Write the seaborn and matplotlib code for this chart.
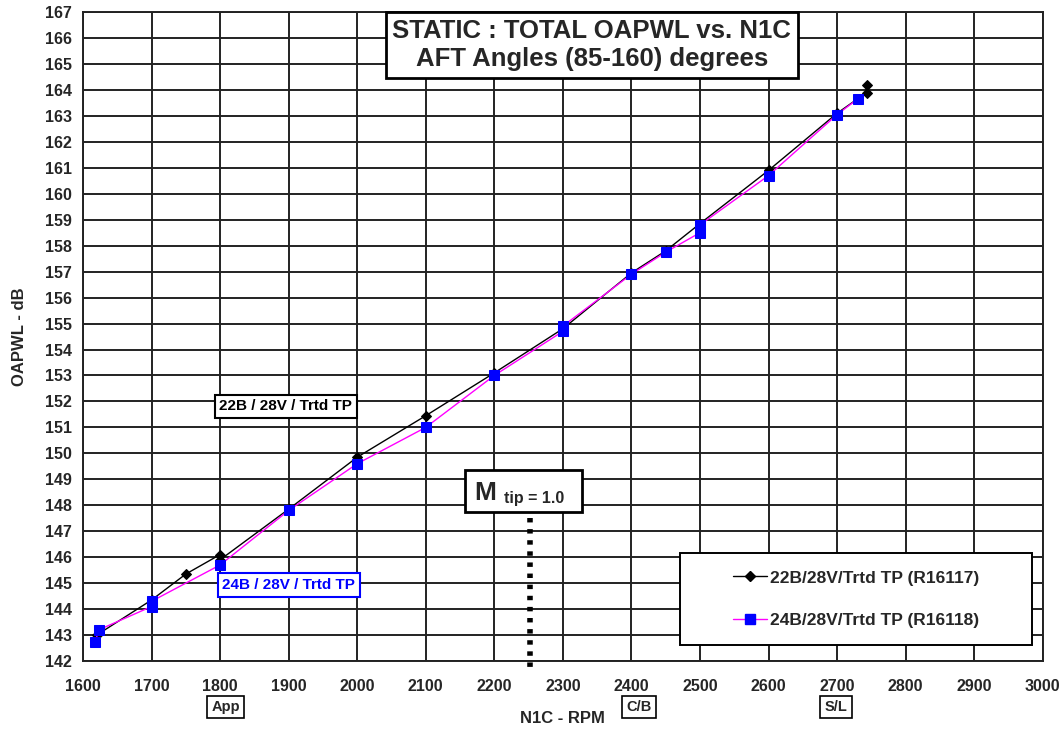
import matplotlib
matplotlib.use("Agg")
import matplotlib.pyplot as plt
import matplotlib.transforms as mtransforms
from matplotlib.lines import Line2D
from matplotlib.patches import Rectangle
import seaborn as sns
import pandas as pd

# data
rpm_22b = [1620, 1700, 1750, 1800, 1800, 1900, 2000, 2100, 2200, 2300, 2400, 2450, 2500, 2600, 2700, 2743, 2743]
pwl_22b = [143.0, 144.35, 145.35, 146.1, 145.9, 147.85, 149.85, 151.45, 153.1, 154.8, 156.95, 157.8, 158.85, 160.9, 163.1, 163.9, 164.2]

rpm_24b = [1618, 1623, 1700, 1700, 1800, 1900, 2000, 2100, 2200, 2300, 2300, 2400, 2450, 2500, 2500, 2600, 2700, 2730]
pwl_24b = [142.75, 143.2, 144.1, 144.3, 145.7, 147.8, 149.6, 151.0, 153.0, 154.7, 154.9, 156.9, 157.75, 158.5, 158.8, 160.7, 163.05, 163.65]

label_22b = "22B/28V/Trtd TP (R16117)"
label_24b = "24B/28V/Trtd TP (R16118)"

x_ticks = list(range(1600, 3001, 100))
y_ticks = list(range(142, 168))

# markers on x axis
cond_names = ["App", "C/B", "S/L"]
cond_rpm = [1808, 2411, 2698]
mtip_rpm = 2252

sns.set_style("white")
plt.rcParams['font.family'] = ['Liberation Sans', 'DejaVu Sans']
plt.rcParams['font.weight'] = 'bold'

fig = plt.figure(figsize=(10.64, 7.30), dpi=100)
ax = fig.add_axes([0.078, 0.0945, 0.902, 0.889])

df1 = pd.DataFrame({"rpm": rpm_22b, "pwl": pwl_22b})
df2 = pd.DataFrame({"rpm": rpm_24b, "pwl": pwl_24b})

sns.lineplot(data=df1, x="rpm", y="pwl", sort=False, estimator=None, color="black",
             lw=1.0, marker="D", markersize=5, markeredgecolor="black", ax=ax, zorder=4)
sns.lineplot(data=df2, x="rpm", y="pwl", sort=False, estimator=None, color="#FF00FF",
             lw=1.0, marker="s", markersize=7, markerfacecolor="#0000FF",
             markeredgecolor="#0000FF", ax=ax, zorder=5)

ax.set_xlim(1600, 3000)
ax.set_ylim(142, 167)
ax.set_xticks(x_ticks)
ax.set_yticks(y_ticks)
ax.grid(True, color="#222222", lw=1.4)
ax.set_axisbelow(True)
for s in ax.spines.values():
    s.set_color("#222222")
    s.set_linewidth(1.4)
ax.tick_params(axis="both", direction="out", length=6, width=1.4, color="#222222",
               labelsize=11.5)
ax.tick_params(axis="x", pad=7)
ax.tick_params(axis="y", pad=2)
for lab in ax.get_xticklabels() + ax.get_yticklabels():
    lab.set_fontweight("bold")

ax.set_xlabel("N1C - RPM", fontsize=12, fontweight="bold")
ax.set_ylabel("OAPWL - dB", fontsize=12, fontweight="bold")
ax.xaxis.set_label_coords(0.5, -0.077)
ax.yaxis.set_label_coords(-0.058, 0.5)

# title box
ax.text(2342, 165.73, "STATIC : TOTAL OAPWL vs. N1C\nAFT Angles (85-160) degrees",
        ha="center", va="center", fontsize=18.5, fontweight="bold", linespacing=1.22,
        bbox=dict(boxstyle="square,pad=0.25", fc="white", ec="black", lw=2), zorder=6)

# series labels
ax.text(1896, 151.82, "22B / 28V / Trtd TP", ha="center", va="center", fontsize=11,
        fontweight="bold", color="black",
        bbox=dict(boxstyle="square,pad=0.3", fc="white", ec="black", lw=1.5), zorder=6)
ax.text(1900, 144.93, "24B / 28V / Trtd TP", ha="center", va="center", fontsize=11,
        fontweight="bold", color="#0000FF",
        bbox=dict(boxstyle="square,pad=0.3", fc="white", ec="#0000FF", lw=1.5), zorder=6)

# M tip annotation: box, big M, small subscript text
ax.add_patch(Rectangle((2157, 147.74), 171, 1.62, fc="white", ec="black", lw=2, zorder=6))
ax.text(2171, 148.22, "M", ha="left", va="baseline", fontsize=19, fontweight="bold", zorder=7)
ax.text(2214, 148.07, "tip = 1.0", ha="left", va="baseline", fontsize=11.5,
        fontweight="bold", zorder=7)
ax.plot([mtip_rpm, mtip_rpm], [147.5, 141.55], color="black", lw=4, ls=(0, (0.8, 1.2)),
        clip_on=False, zorder=6, solid_capstyle="butt", dash_capstyle="butt")

# operating condition boxes below the axis
trans = mtransforms.blended_transform_factory(ax.transData, ax.transAxes)
for name, r in zip(cond_names, cond_rpm):
    ax.text(r, -0.071, name, transform=trans, ha="center", va="center", fontsize=10.5,
            fontweight="bold", clip_on=False,
            bbox=dict(boxstyle="square,pad=0.3", fc="white", ec="black", lw=1.2))

# legend
ax.add_patch(Rectangle((0.622, 0.0247), 0.3665, 0.1417, transform=ax.transAxes,
                       fc="white", ec="black", lw=1.4, zorder=7))
handles = [
    Line2D([], [], color="black", lw=1.0, marker="D", markersize=5),
    Line2D([], [], color="#FF00FF", lw=1.0, marker="s", markersize=7,
           markerfacecolor="#0000FF", markeredgecolor="#0000FF"),
]
leg = ax.legend(handles, [label_22b, label_24b], loc="center",
                bbox_to_anchor=(0.622 + 0.3665 / 2, 0.0247 + 0.1417 / 2),
                frameon=False, labelspacing=1.55, handlelength=2.0,
                handletextpad=0.15, prop={"weight": "bold", "size": 12.5})
leg.set_zorder(8)

fig.savefig("out.png", dpi=100)
